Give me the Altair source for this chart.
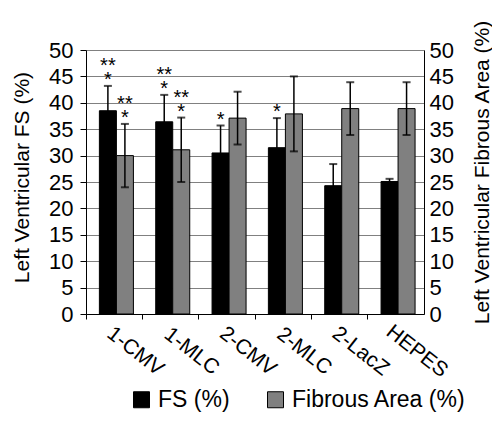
import altair as alt
import pandas as pd

categories = ["1-CMV", "1-MLC", "2-CMV", "2-MLC", "2-LacZ", "HEPES"]
series = ["FS (%)", "Fibrous Area (%)"]
fs_values = [38.5, 36.4, 30.5, 31.5, 24.3, 25.1]
fs_err = [4.7, 5.1, 5.2, 5.6, 4.1, 0.5]
fa_values = [30.0, 31.1, 37.1, 37.9, 38.9, 38.9]
fa_err = [6.0, 6.1, 5.0, 7.1, 5.0, 5.0]
fs_star1 = ["*", "*", "*", "*", "", ""]
fs_star2 = ["**", "**", "", "", "", ""]
fa_star1 = ["*", "*", "", "", "", ""]
fa_star2 = ["**", "**", "", "", "", ""]

rows = []
for i, c in enumerate(categories):
    rows.append(dict(category=c, series=series[0], value=fs_values[i],
                     hi=fs_values[i] + fs_err[i], lo=fs_values[i] - fs_err[i],
                     star1=fs_star1[i], star2=fs_star2[i]))
    rows.append(dict(category=c, series=series[1], value=fa_values[i],
                     hi=fa_values[i] + fa_err[i], lo=fa_values[i] - fa_err[i],
                     star1=fa_star1[i], star2=fa_star2[i]))
df = pd.DataFrame(rows)

FONT = "Liberation Sans"


def ys():
    return alt.Scale(domain=[0, 50], nice=False, zero=True)


base = alt.Chart(df).encode(
    x=alt.X("category:N", sort=categories,
            scale=alt.Scale(paddingInner=0, paddingOuter=0),
            axis=alt.Axis(title=None, labelAngle=38, labelAlign="center",
                          labelBaseline="middle", labelOffset=21, labelPadding=32,
                          bandPosition=0, ticks=True, tickSize=5, tickColor="black",
                          domainColor="black", labelColor="black",
                          labelFontSize=21, labelFont=FONT,
                          labelOverlap=False, labelFlush=False, labelBound=False)),
    xOffset=alt.XOffset("series:N", sort=series,
                        scale=alt.Scale(paddingInner=0, paddingOuter=0.656, align=0.6)),
)

left_axis = alt.Axis(values=list(range(0, 51, 5)), orient="left",
                     title="Left Ventricular FS (%)",
                     titleFontSize=21, titleFontWeight="normal", titleFont=FONT,
                     titleX=-64, titleY=127, titleAlign="center", titleBaseline="middle",
                     titleAngle=270, titleColor="black",
                     labelFontSize=22, labelFont=FONT, labelColor="black", labelPadding=7,
                     ticks=True, tickSize=6, tickColor="black", domainColor="black",
                     grid=True, gridColor="#808080", gridWidth=1)

right_axis = alt.Axis(values=list(range(0, 51, 5)), orient="right",
                      title="Left Ventricular Fibrous Area (%)",
                      titleFontSize=21, titleFontWeight="normal", titleFont=FONT,
                      titleX=58, titleY=122, titleAlign="center", titleBaseline="middle",
                      titleAngle=270, titleColor="black",
                      labelFontSize=22, labelFont=FONT, labelColor="black", labelPadding=5,
                      tickSize=0, domainColor="black", grid=False)

bars = base.mark_bar(stroke="black", strokeWidth=1).encode(
    y=alt.Y("value:Q", scale=ys(), axis=left_axis),
    color=alt.Color("series:N", sort=series,
                    scale=alt.Scale(domain=series, range=["#000000", "#808080"]),
                    legend=alt.Legend(title=None, orient="none", legendX=44, legendY=338,
                                      direction="horizontal", symbolType="square",
                                      symbolSize=256, symbolStrokeColor="black",
                                      symbolStrokeWidth=1, labelFontSize=23,
                                      labelFont=FONT, labelColor="black", labelLimit=400,
                                      columnPadding=34, labelOffset=5, padding=0)),
)

rules = base.mark_rule(color="black", strokeWidth=1.5).encode(
    y=alt.Y("lo:Q", scale=ys(), axis=None), y2="hi:Q")
caps_hi = base.mark_tick(color="black", size=8, thickness=2).encode(
    y=alt.Y("hi:Q", scale=ys(), axis=None))
caps_lo = base.mark_tick(color="black", size=8, thickness=2).encode(
    y=alt.Y("lo:Q", scale=ys(), axis=None))
stars1 = base.mark_text(fontSize=20, font=FONT, color="black", dy=0,
                        baseline="alphabetic").encode(
    y=alt.Y("hi:Q", scale=ys(), axis=None), text="star1:N")
stars2 = base.mark_text(fontSize=20, font=FONT, color="black", dy=-14,
                        baseline="alphabetic").encode(
    y=alt.Y("hi:Q", scale=ys(), axis=None), text="star2:N")

right = base.mark_tick(opacity=0).encode(
    y=alt.Y("hi:Q", scale=ys(), axis=right_axis))

chart = alt.layer(bars, rules, caps_hi, caps_lo, stars1, stars2, right).resolve_scale(
    y="independent").properties(
    width=338, height=264,
    autosize=alt.AutoSizeParams(type="none"),
    padding={"left": 78, "top": 42, "right": 68, "bottom": 98},
).configure_view(strokeWidth=0).configure(font=FONT)

chart.save("out.html", embed_options={"renderer": "svg", "actions": False})
